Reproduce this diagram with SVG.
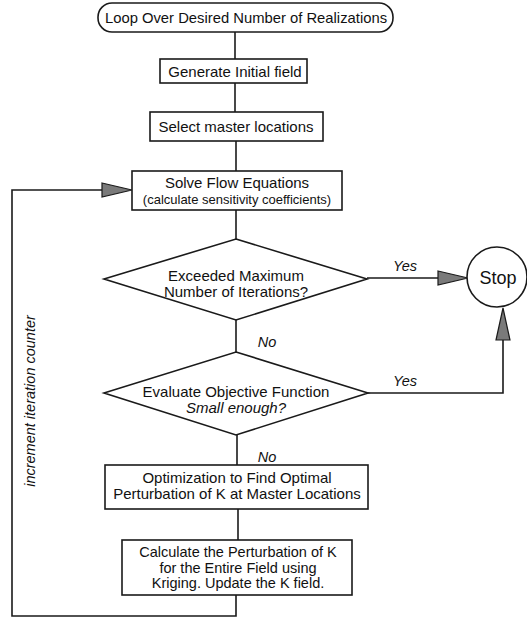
<svg xmlns="http://www.w3.org/2000/svg" width="527" height="621" viewBox="0 0 527 621">
<style>
.box{fill:#fff;stroke:#1a1a1a;stroke-width:1.6}
.ln{fill:none;stroke:#1a1a1a;stroke-width:1.6}
.t{font-family:"Liberation Sans",Arial,sans-serif;font-size:15px;fill:#111;text-anchor:middle}
.s{font-size:13px}
.i{font-style:italic;font-size:14.5px}
.ah{fill:#7a7a7a;stroke:#1a1a1a;stroke-width:1.2}
</style>
<rect width="527" height="621" fill="#fff"/>
<g id="connectors">
<path class="ln" d="M235 32V59"/>
<path class="ln" d="M235 83V112"/>
<path class="ln" d="M236 141V171"/>
<path class="ln" d="M236 210V239"/>
<path class="ln" d="M236 320V352"/>
<path class="ln" d="M237 435V465"/>
<path class="ln" d="M238 509V540"/>
<path class="ln" d="M367 278H440"/>
<polygon class="ah" points="438,271 468,278 438,285"/>
<path class="ln" d="M368 393H503V338"/>
<polygon class="ah" points="496,340 503,308 510,340"/>
<path class="ln" d="M236 595V616H12V190H104"/>
<polygon class="ah" points="102,183 132,190 102,197"/>
<text class="t i" x="405" y="271">Yes</text>
<text class="t i" x="405" y="386">Yes</text>
<text class="t i" x="267" y="347">No</text>
<text class="t i" x="267" y="462">No</text>
<text class="t i" x="35" y="401" transform="rotate(-90 35 401)">increment iteration counter</text>
</g>
<g id="loop">
<rect class="box" x="98" y="3" width="295" height="29" rx="14"/>
<text class="t" x="246" y="22.5" style="font-size:14.8px">Loop Over Desired Number of Realizations</text>
</g>
<g id="generate">
<rect class="box" x="160" y="59" width="147" height="24"/>
<text class="t" x="235" y="76.5">Generate Initial field</text>
</g>
<g id="select">
<rect class="box" x="150" y="112" width="173" height="29"/>
<text class="t" x="236" y="131.5">Select master locations</text>
</g>
<g id="solve">
<rect class="box" x="132" y="171" width="210" height="39"/>
<text class="t" x="237" y="188">Solve Flow Equations</text>
<text class="t s" x="237" y="204">(calculate sensitivity coefficients)</text>
</g>
<g id="exceeded">
<polygon class="box" points="236,239 367,279 236,320 104,279"/>
<text class="t" x="236" y="281">Exceeded Maximum</text>
<text class="t" x="236" y="297">Number of Iterations?</text>
</g>
<g id="stop">
<circle class="box" cx="497" cy="277" r="30"/>
<text class="t" x="498" y="284" style="font-size:18px">Stop</text>
</g>
<g id="evaluate">
<polygon class="box" points="236,352 368,393 236,435 104,393"/>
<text class="t" x="236" y="397">Evaluate Objective Function</text>
<text class="t" x="236" y="413" style="font-style:italic">Small enough?</text>
</g>
<g id="optimize">
<rect class="box" x="105" y="465" width="263" height="44"/>
<text class="t" x="237" y="482.5">Optimization to Find Optimal</text>
<text class="t" x="237" y="498.5">Perturbation of K at Master Locations</text>
</g>
<g id="calculate">
<rect class="box" x="122" y="540" width="230" height="55"/>
<text class="t" x="238" y="557" style="font-size:14.5px">Calculate the Perturbation of K</text>
<text class="t" x="238" y="572.5" style="font-size:14.5px">for the Entire Field using</text>
<text class="t" x="238" y="588" style="font-size:14.5px">Kriging. Update the K field.</text>
</g>
</svg>
